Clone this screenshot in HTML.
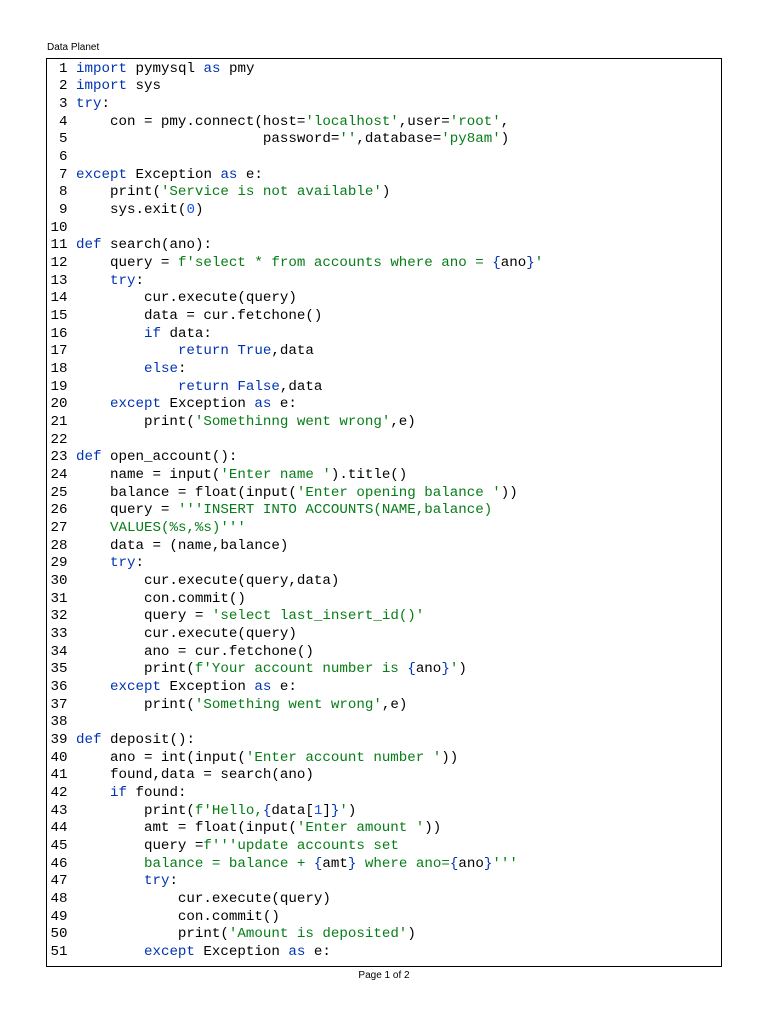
<!DOCTYPE html>
<html><head><meta charset="utf-8"><style>
body{margin:0;width:768px;height:1024px;background:#fff;position:relative;overflow:hidden}
.hdr{position:absolute;left:47px;top:42px;font:10px "Liberation Sans",sans-serif;color:#000}
.ftr{position:absolute;left:0;width:768px;top:970px;text-align:center;font:10px "Liberation Sans",sans-serif;color:#000}
.box{position:absolute;left:46px;top:58px;width:676px;height:909px;border:1px solid #000;box-sizing:border-box}
pre{position:absolute;left:50.5px;top:60.5px;margin:0;font:14.17px/17.67px "Liberation Mono","DejaVu Sans Mono",monospace;color:#000}
.k{color:#0033b3}.s{color:#067d17}.n{color:#1750eb}.b{color:#0033b3}
</style></head><body>
<div class="hdr">Data Planet</div>
<div class="box"></div>
<pre> 1 <span class="k">import</span> pymysql <span class="k">as</span> pmy
 2 <span class="k">import</span> sys
 3 <span class="k">try</span>:
 4     con = pmy.connect(host=<span class="s">'localhost'</span>,user=<span class="s">'root'</span>,
 5                       password=<span class="s">''</span>,database=<span class="s">'py8am'</span>)
 6 
 7 <span class="k">except</span> Exception <span class="k">as</span> e:
 8     print(<span class="s">'Service is not available'</span>)
 9     sys.exit(<span class="n">0</span>)
10 
11 <span class="k">def</span> search(ano):
12     query = <span class="s">f'select * from accounts where ano = </span><span class="b">{</span>ano<span class="b">}</span><span class="s">'</span>
13     <span class="k">try</span>:
14         cur.execute(query)
15         data = cur.fetchone()
16         <span class="k">if</span> data:
17             <span class="k">return</span> <span class="k">True</span>,data
18         <span class="k">else</span>:
19             <span class="k">return</span> <span class="k">False</span>,data
20     <span class="k">except</span> Exception <span class="k">as</span> e:
21         print(<span class="s">'Somethinng went wrong'</span>,e)
22 
23 <span class="k">def</span> open_account():
24     name = input(<span class="s">'Enter name '</span>).title()
25     balance = float(input(<span class="s">'Enter opening balance '</span>))
26     query = <span class="s">'''INSERT INTO ACCOUNTS(NAME,balance)</span>
27 <span class="s">    VALUES(%s,%s)'''</span>
28     data = (name,balance)
29     <span class="k">try</span>:
30         cur.execute(query,data)
31         con.commit()
32         query = <span class="s">'select last_insert_id()'</span>
33         cur.execute(query)
34         ano = cur.fetchone()
35         print(<span class="s">f'Your account number is </span><span class="b">{</span>ano<span class="b">}</span><span class="s">'</span>)
36     <span class="k">except</span> Exception <span class="k">as</span> e:
37         print(<span class="s">'Something went wrong'</span>,e)
38 
39 <span class="k">def</span> deposit():
40     ano = int(input(<span class="s">'Enter account number '</span>))
41     found,data = search(ano)
42     <span class="k">if</span> found:
43         print(<span class="s">f'Hello,</span><span class="b">{</span>data[<span class="n">1</span>]<span class="b">}</span><span class="s">'</span>)
44         amt = float(input(<span class="s">'Enter amount '</span>))
45         query =<span class="s">f'''update accounts set</span>
46 <span class="s">        balance = balance + </span><span class="b">{</span>amt<span class="b">}</span><span class="s"> where ano=</span><span class="b">{</span>ano<span class="b">}</span><span class="s">'''</span>
47         <span class="k">try</span>:
48             cur.execute(query)
49             con.commit()
50             print(<span class="s">'Amount is deposited'</span>)
51         <span class="k">except</span> Exception <span class="k">as</span> e:</pre>
<div class="ftr">Page 1 of 2</div>
</body></html>
